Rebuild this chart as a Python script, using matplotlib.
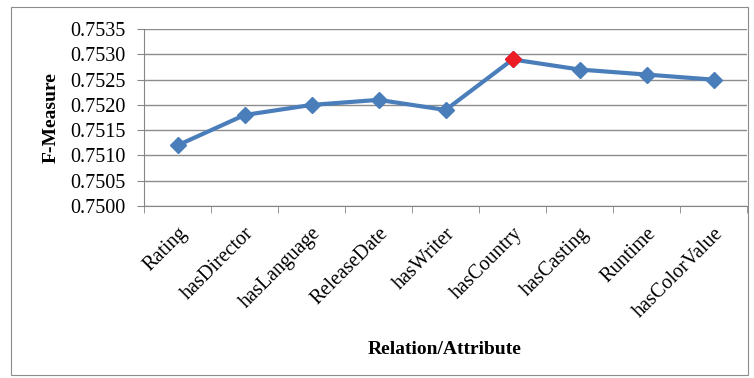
import matplotlib.pyplot as plt
import matplotlib.patches as patches
import numpy as np

relations = ['Rating', 'hasDirector', 'hasLanguage', 'ReleaseDate', 'hasWriter',
             'hasCountry', 'hasCasting', 'Runtime', 'hasColorValue']
f_measure = [0.7512, 0.7518, 0.7520, 0.7521, 0.7519, 0.7529, 0.7527, 0.7526, 0.7525]
best_idx = 5  # hasCountry, highlighted
y_ticks = [0.7500, 0.7505, 0.7510, 0.7515, 0.7520, 0.7525, 0.7530, 0.7535]

plt.rcParams['font.family'] = 'Liberation Serif'

fig = plt.figure(figsize=(7.54, 3.78), dpi=100)
ax = fig.add_axes([0.191, 0.455, 0.8, 0.468])

# outer frame around the whole chart
fig.patches.append(patches.Rectangle((11/754, 3/378), 737/754, 368/378, transform=fig.transFigure,
                                     fill=False, edgecolor='#8c8c8c', linewidth=0.8))

x = np.arange(len(relations))
blue = '#4a7ebb'
ax.plot(x, f_measure, color=blue, linewidth=3.0, marker='D', markersize=8.5,
        markerfacecolor=blue, markeredgecolor=blue, zorder=3)
ax.plot(x[best_idx], f_measure[best_idx], marker='D', markersize=8.5, color='#ee1c25',
        markeredgecolor='#ee1c25', linestyle='none', zorder=4)

ax.set_xlim(-0.5, len(relations) - 0.5)
ax.set_ylim(0.7500, 0.7535)
ax.set_yticks(y_ticks)
ax.set_yticklabels(['%.4f' % v for v in y_ticks], fontsize=14.5)
ax.set_xticks(x)
ax.set_xticklabels(relations, rotation=45, ha='right', rotation_mode='anchor', fontsize=14.5)
ax.set_xticks(np.arange(-0.5, len(relations)), minor=True)
ax.tick_params(axis='x', which='major', length=0, pad=13)
ax.tick_params(axis='x', which='minor', length=5, color='#868686')
ax.tick_params(axis='y', length=5, color='#868686', pad=8)

ax.grid(axis='y', color='#8c8c8c', linewidth=1.0)
ax.set_axisbelow(True)
for side in ['top', 'right']:
    ax.spines[side].set_visible(False)
for side in ['left', 'bottom']:
    ax.spines[side].set_color('#868686')

ax.set_ylabel('F-Measure', fontsize=14, fontweight='bold', labelpad=8)
fig.text(0.59, 0.075, 'Relation/Attribute', ha='center', va='center', fontsize=14, fontweight='bold')

fig.savefig('out.png', dpi=100)
